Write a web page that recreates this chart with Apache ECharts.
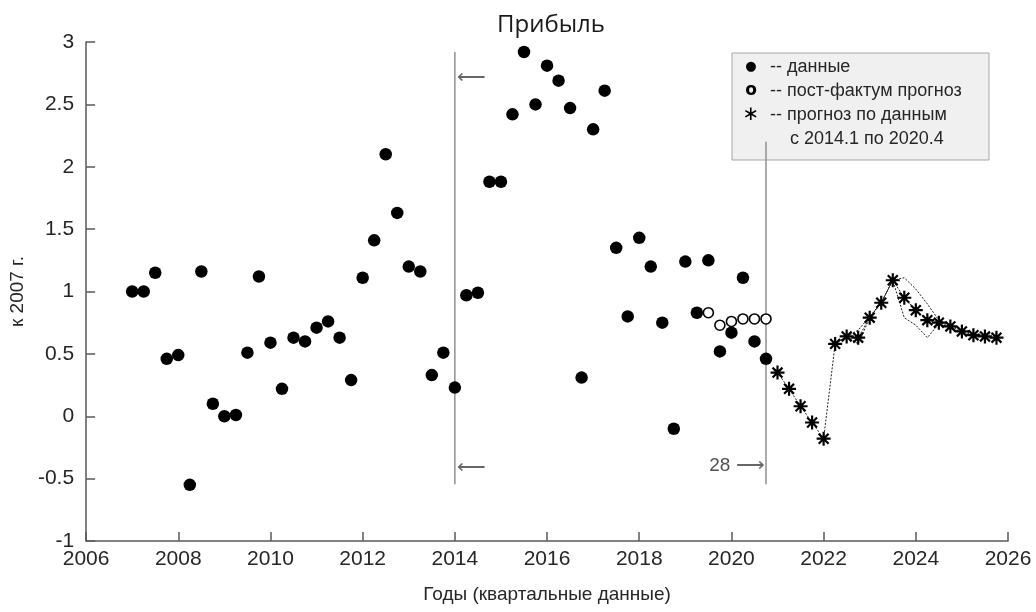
<!DOCTYPE html>
<html><head><meta charset="utf-8">
<script src="https://cdn.jsdelivr.net/npm/echarts@6/dist/echarts.min.js"></script>
<style>html,body{margin:0;padding:0;background:#fff}#c{width:1036px;height:612px}</style>
</head><body><div id="c"></div>
<script>
// ---- data ----
const dataStart = 2007.0;   // quarterly, step 0.25
const dataValues = [
  1.00, 1.00, 1.15, 0.46,
  0.49, -0.55, 1.16, 0.10,
  0.00, 0.01, 0.51, 1.12,
  0.59, 0.22, 0.63, 0.60,
  0.71, 0.76, 0.63, 0.29,
  1.11, 1.41, 2.10, 1.63,
  1.20, 1.16, 0.33, 0.51,
  0.23, 0.97, 0.99, 1.88,
  1.88, 2.42, 2.92, 2.50,
  2.81, 2.69, 2.47, 0.31,
  2.30, 2.61, 1.35, 0.80,
  1.43, 1.20, 0.75, -0.10,
  1.24, 0.83, 1.25, 0.52,
  0.67, 1.11, 0.60, 0.46
];
const postStart = 2019.5;
const postValues = [0.83, 0.73, 0.76, 0.78, 0.78, 0.78];
const fcStart = 2021.0;
const fcValues = [0.35, 0.22, 0.08, -0.05, -0.18, 0.58, 0.64, 0.63, 0.79, 0.91,
                  1.09, 0.95, 0.85, 0.77, 0.75, 0.72, 0.68, 0.65, 0.64, 0.63];
const bandStart = 2022.25;
const bandUpper = [0.58, 0.64, 0.69, 0.80, 0.91, 1.09, 1.11, 1.02, 0.90, 0.77, 0.73, 0.69, 0.66, 0.66, 0.66];
const bandLower = [0.58, 0.64, 0.58, 0.79, 0.91, 1.09, 0.79, 0.73, 0.63, 0.74, 0.71, 0.67, 0.64, 0.64, 0.62];
const vLines = [ {x: 2014.0, top: 2.92, bottom: -0.545}, {x: 2020.75, top: 2.2, bottom: -0.545} ];
const notes = [
  {x: 2014.05, y: 2.71, num: '', arrow: '⟵', align: 'left'},
  {x: 2014.05, y: -0.41, num: '', arrow: '⟵', align: 'left'},
  {x: 2020.72, y: -0.40, num: '28 ', arrow: '⟶', align: 'right'}
];
const titleText = 'Прибыль';
const xName = 'Годы (квартальные данные)';
const yName = 'к 2007 г.';
const legendRows = [
  {sym: '●', text: '-- данные'},
  {sym: 'o', text: '-- пост-фактум прогноз'},
  {sym: '∗', text: '-- прогноз по данным'},
  {sym: '', text: 'с 2014.1 по 2020.4'}
];

// ---- build ----
const q = (start, arr) => arr.map((v, i) => [start + i * 0.25, v]);
const FONT = 'Liberation Sans';
const TXT = '#262626';
const AX = '#595959';
const starPath = 'path://M0,-10L0,10M-10,0L10,0M-7.07,-7.07L7.07,7.07M-7.07,7.07L7.07,-7.07';

const series = [];
vLines.forEach(v => series.push({
  type: 'line', data: [[v.x, v.top], [v.x, v.bottom]], symbol: 'none',
  lineStyle: {color: '#909090', width: 1.5}, silent: true, z: 1
}));
series.push({
  type: 'line', data: q(bandStart, bandUpper), symbol: 'none',
  lineStyle: {color: '#222', width: 1, type: [2, 1.5]}, z: 2
});
series.push({
  type: 'line', data: q(bandStart, bandLower), symbol: 'none',
  lineStyle: {color: '#222', width: 1, type: [2, 1.5]}, z: 2
});
series.push({
  type: 'line', data: q(fcStart, fcValues), symbol: starPath, symbolSize: 14,
  itemStyle: {color: '#000', borderColor: '#000', borderWidth: 2.2, opacity: 1},
  lineStyle: {color: '#222', width: 1, type: [2, 1.5]}, z: 3
});
series.push({
  type: 'scatter', data: q(dataStart, dataValues), symbol: 'circle', symbolSize: 12.5,
  itemStyle: {color: '#000', opacity: 1}, z: 4
});
series.push({
  type: 'scatter', data: q(postStart, postValues), symbol: 'circle', symbolSize: 10,
  itemStyle: {color: '#fff', borderColor: '#000', borderWidth: 1.6, opacity: 1}, z: 5
});
series.push({
  type: 'scatter', symbolSize: 0,
  data: notes.map(n => ({value: [n.x, n.y], label: {
    show: true, formatter: (n.num ? '{n|' + n.num + '}' : '') + '{a|' + n.arrow + '}',
    position: n.align === 'left' ? 'right' : 'left', distance: 0,
    rich: {
      n: {fontFamily: FONT, fontSize: 19, color: TXT},
      a: {fontFamily: 'DejaVu Sans', fontSize: 20, color: '#404040', fontWeight: 'lighter'}
    }
  }})), z: 6, silent: true
});

const gx = 732, gy = 53, gw = 257, gh = 107;
const legendChildren = [{
  type: 'rect', shape: {x: gx, y: gy, width: gw, height: gh},
  style: {fill: '#f0f0f0', stroke: '#a6a6a6', lineWidth: 1}
}];
legendRows.forEach((r, i) => {
  const cy = 67 + i * 24;
  if (r.sym) legendChildren.push({
    type: 'text', x: 751, y: cy,
    style: {text: r.sym, fontFamily: 'DejaVu Sans', fontSize: r.sym === '●' ? 13 : (r.sym === 'o' ? 17 : 20),
      fontWeight: r.sym === 'o' ? 'bold' : 'normal',
      fill: '#000', align: 'center', verticalAlign: 'middle'}
  });
  legendChildren.push({
    type: 'text', x: r.sym ? 770 : 790, y: cy,
    style: {text: r.text, fontFamily: FONT, fontSize: 18, fill: TXT, align: 'left', verticalAlign: 'middle'}
  });
});

const chart = echarts.init(document.getElementById('c'));
chart.setOption({
  animation: false,
  backgroundColor: '#fff',
  title: {text: titleText, left: 546, textAlign: 'center', top: 8,
    textStyle: {fontFamily: 'Open Sans', fontSize: 24, fontWeight: 'normal', color: '#1a1a1a'}},
  grid: {left: 84, right: 28, top: 42, bottom: 71, containLabel: false},
  xAxis: {
    type: 'value', min: 2006, max: 2026, interval: 2,
    name: xName, nameLocation: 'middle', nameGap: 44,
    nameTextStyle: {fontFamily: FONT, fontSize: 19, color: TXT},
    axisLine: {show: true, onZero: false, lineStyle: {color: AX, width: 1.5}},
    axisTick: {show: true, inside: true, length: 9, lineStyle: {color: AX, width: 1.5}},
    axisLabel: {fontFamily: FONT, fontSize: 21, color: TXT, margin: 8, formatter: v => String(v)},
    splitLine: {show: false}
  },
  yAxis: {
    type: 'value', min: -1, max: 3, interval: 0.5,
    name: yName, nameLocation: 'middle', nameGap: 54, nameRotate: 90,
    nameTextStyle: {fontFamily: FONT, fontSize: 19, color: TXT},
    axisLine: {show: true, onZero: false, lineStyle: {color: AX, width: 1.5}},
    axisTick: {show: true, inside: true, length: 9, lineStyle: {color: AX, width: 1.5}},
    axisLabel: {fontFamily: FONT, fontSize: 21, color: TXT, margin: 12, formatter: v => String(v)},
    splitLine: {show: false}
  },
  series: series,
  graphic: [{type: 'group', z: 100, children: legendChildren}]
});
</script>
</body></html>
